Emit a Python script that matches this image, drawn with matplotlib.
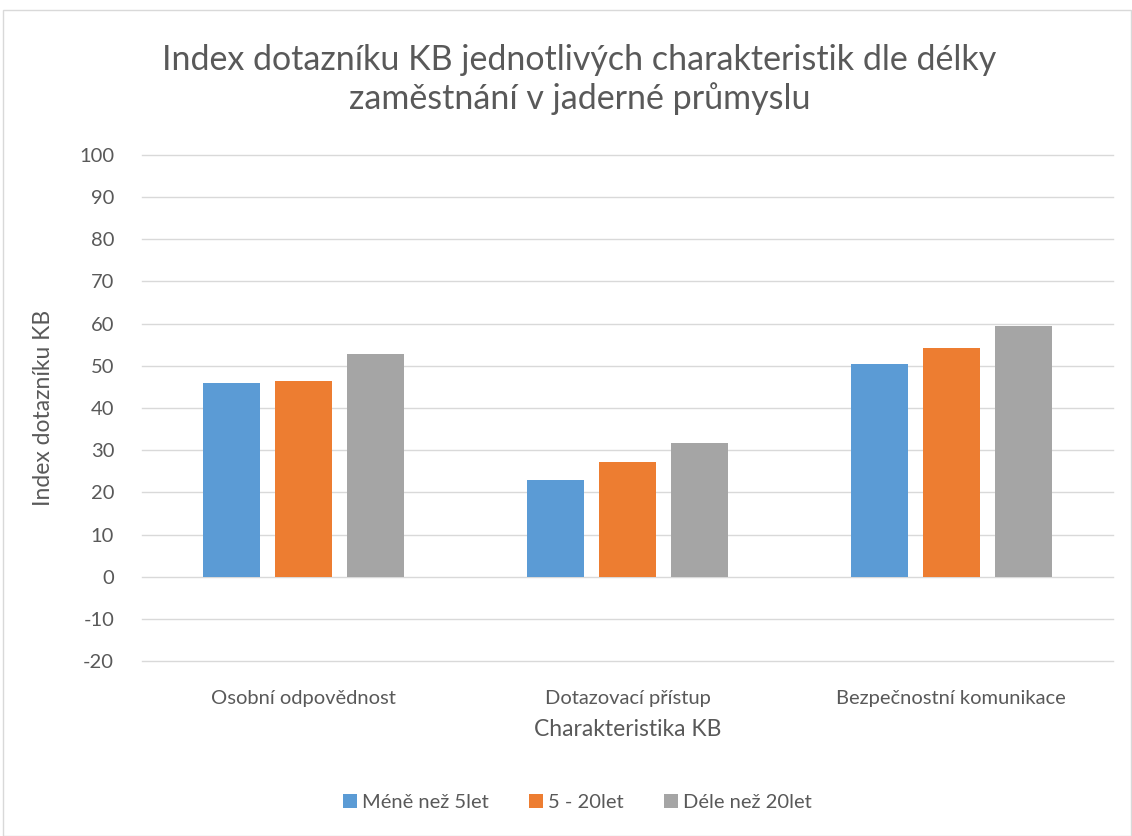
import numpy as np
import matplotlib.pyplot as plt
from matplotlib.patches import Rectangle

plt.rcParams['font.family'] = ['Lato', 'DejaVu Sans']
plt.rcParams['axes.unicode_minus'] = False

# data
categories = ["Osobní odpovědnost", "Dotazovací přístup", "Bezpečnostní komunikace"]
series_names = ["Méně než 5let", "5 - 20let", "Déle než 20let"]
mene_5 = [46.0, 23.0, 50.5]
od_5_do_20 = [46.4, 27.3, 54.2]
dele_20 = [52.8, 31.8, 59.5]
colors = ["#5b9bd5", "#ed7d31", "#a5a5a5"]
yticks = list(range(-20, 101, 10))

fig = plt.figure(figsize=(11.32, 8.36), dpi=100)
# light frame round the whole chart like in Excel
fig.patches.append(Rectangle((0.003, 0.0), 0.996, 0.988, transform=fig.transFigure,
                             fill=False, edgecolor="#d9d9d9", linewidth=1))

ax = fig.add_axes([0.1254, 0.209, 0.858, 0.606])

x = np.arange(len(categories))
width = 0.176
step = 0.222
for i, (vals, name) in enumerate(zip([mene_5, od_5_do_20, dele_20], series_names)):
    ax.bar(x + (i - 1) * step, vals, width, color=colors[i], label=name, zorder=3)

# gridlines drawn by hand so the bottom one is not clipped
for t in yticks:
    ax.axhline(t, color="#d9d9d9", linewidth=1, zorder=0, clip_on=False)

ax.set_xlim(-0.5, 2.5)
ax.set_ylim(-20, 100)
ax.set_yticks(yticks)
for s in ax.spines.values():
    s.set_visible(False)
ax.tick_params(axis="both", length=0, labelsize=14.5, colors="#595959")
ax.tick_params(axis="y", pad=20)
ax.set_xticks(x)
ax.set_xticklabels(categories)
ax.tick_params(axis="x", pad=21)

ax.set_ylabel("Index dotazníku KB", fontsize=16.5, color="#595959", labelpad=18)
ax.set_xlabel("Charakteristika KB", fontsize=16.5, color="#595959", labelpad=8)

fig.text(0.512, 0.905, "Index dotazníku KB jednotlivých charakteristik dle délky\nzaměstnání v jaderné průmyslu",
         ha="center", va="center", fontsize=24.5, color="#595959", linespacing=1.2)

fig.legend(loc="center", bbox_to_anchor=(0.51, 0.04), ncol=3, frameon=False,
           fontsize=14.5, labelcolor="#595959", handlelength=0.7, handleheight=0.7,
           handletextpad=0.25, columnspacing=2.0)

fig.savefig("out.png", dpi=100)
